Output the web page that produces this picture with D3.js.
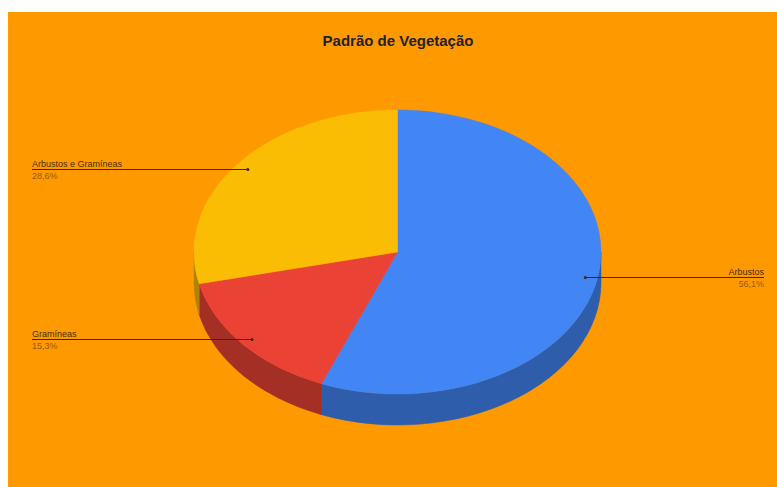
<!DOCTYPE html>
<html>
<head>
<meta charset="utf-8">
<title>Padrão de Vegetação</title>
<script src="https://d3js.org/d3.v7.min.js"></script>
<style>
  body { margin: 0; background: #fff; }
  svg { display: block; font-family: "Liberation Sans", Arial, sans-serif; }
</style>
</head>
<body>
<svg id="chart" width="777" height="487"></svg>
<script>
var categories = ["Arbustos", "Gramíneas", "Arbustos e Gramíneas"];
var values = [56.1, 15.3, 28.6];
var percentLabels = ["56,1%", "15,3%", "28,6%"];
var topColors = ["#4285f4", "#ea4335", "#fbbc04"];
var sideColors = ["#2e5dab", "#a42f25", "#b08403"];

var svg = d3.select("#chart"),
    cx = 397.5, cy = 252, rx = 203.5, ry = 142, depth = 31;

svg.append("rect")
    .attr("x", 8).attr("y", 12)
    .attr("width", 769).attr("height", 475)
    .attr("fill", "#ff9900");

svg.append("text")
    .attr("x", 398).attr("y", 46)
    .attr("text-anchor", "middle")
    .attr("font-size", 15).attr("font-weight", "bold")
    .attr("fill", "#222")
    .text("Padrão de Vegetação");

var pie = d3.pie().sort(null).value(function(d) { return d.value; });
var data = categories.map(function(c, i) { return {name: c, value: values[i], pct: percentLabels[i], i: i}; });
var arcs = pie(data);

function pt(a, r, dy) {
  return [cx + rx * r * Math.sin(a), cy - ry * r * Math.cos(a) + (dy || 0)];
}

function topPath(a0, a1) {
  var p0 = pt(a0, 1), p1 = pt(a1, 1);
  var large = (a1 - a0) > Math.PI ? 1 : 0;
  return "M" + cx + "," + cy + "L" + p0 + "A" + rx + "," + ry + " 0 " + large + " 1 " + p1 + "Z";
}

function sidePath(a0, a1) {
  var s = Math.max(a0, Math.PI / 2), e = Math.min(a1, 3 * Math.PI / 2);
  if (s >= e) return null;
  var p0 = pt(s, 1), p1 = pt(e, 1), q1 = pt(e, 1, depth), q0 = pt(s, 1, depth);
  return "M" + p0 + "A" + rx + "," + ry + " 0 0 1 " + p1 +
         "L" + q1 + "A" + rx + "," + ry + " 0 0 0 " + q0 + "Z";
}

var g = svg.append("g");

g.selectAll(".side")
  .data(arcs.filter(function(d) { return sidePath(d.startAngle, d.endAngle); }))
  .enter().append("path")
    .attr("class", "side")
    .attr("d", function(d) { return sidePath(d.startAngle, d.endAngle); })
    .attr("fill", function(d) { return sideColors[d.data.i]; })
    .attr("stroke", function(d) { return sideColors[d.data.i]; })
    .attr("stroke-width", 0.5);

g.selectAll(".top")
  .data(arcs)
  .enter().append("path")
    .attr("class", "top")
    .attr("d", function(d) { return topPath(d.startAngle, d.endAngle); })
    .attr("fill", function(d) { return topColors[d.data.i]; })
    .attr("stroke", function(d) { return topColors[d.data.i]; })
    .attr("stroke-width", 0.5);

// labels with leader lines
var labels = svg.append("g");
arcs.forEach(function(d) {
  var mid = (d.startAngle + d.endAngle) / 2;
  var p = pt(mid, 0.94);
  var right = Math.sin(mid) > 0;
  var endX = right ? 764 : 32;
  var ly = Math.round(p[1]) + 0.5;

  labels.append("line")
      .attr("x1", p[0]).attr("y1", ly)
      .attr("x2", endX).attr("y2", ly)
      .attr("stroke", "#3a2a10").attr("stroke-width", 1);
  labels.append("circle")
      .attr("cx", p[0]).attr("cy", ly).attr("r", 1.5)
      .attr("fill", "#3a2a10");
  labels.append("text")
      .attr("x", endX).attr("y", ly - 2.5)
      .attr("text-anchor", right ? "end" : "start")
      .attr("font-size", 9).attr("fill", "#4a3000")
      .text(d.data.name);
  labels.append("text")
      .attr("x", endX).attr("y", ly + 9)
      .attr("text-anchor", right ? "end" : "start")
      .attr("font-size", 9).attr("fill", "#9a5a00")
      .text(d.data.pct);
});
</script>
</body>
</html>
